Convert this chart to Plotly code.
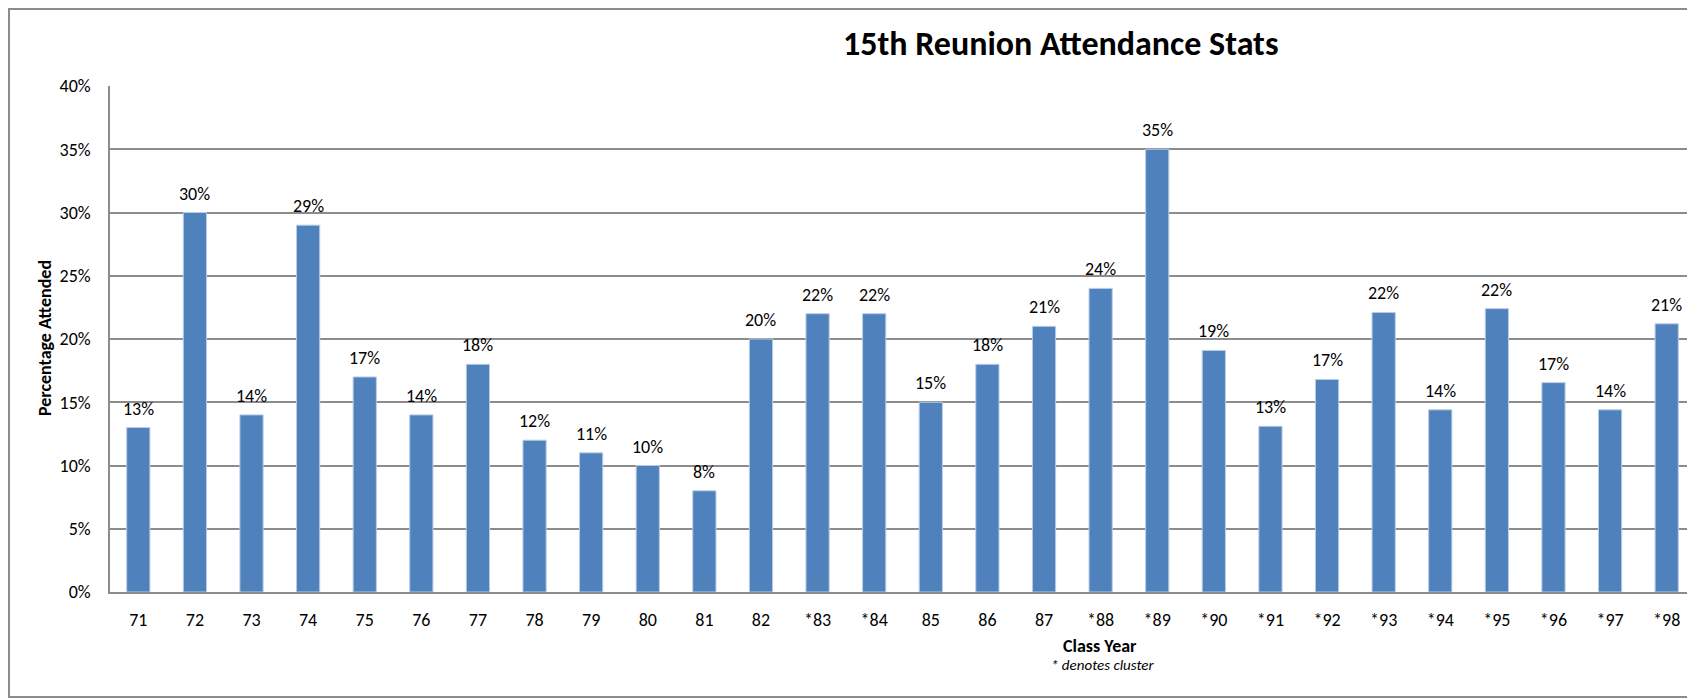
import plotly.graph_objects as go

class_years = ["71", "72", "73", "74", "75", "76", "77", "78", "79", "80", "81", "82",
               "*83", "*84", "85", "86", "87", "*88", "*89", "*90", "*91", "*92", "*93",
               "*94", "*95", "*96", "*97", "*98"]
attendance = [0.13, 0.30, 0.14, 0.29, 0.17, 0.14, 0.18, 0.12, 0.11, 0.10, 0.08, 0.20,
              0.22, 0.22, 0.15, 0.18, 0.21, 0.24, 0.35, 0.191, 0.131, 0.168, 0.221,
              0.144, 0.224, 0.1655, 0.144, 0.212]
y_ticks = [0, 0.05, 0.10, 0.15, 0.20, 0.25, 0.30, 0.35, 0.40]

FONT = "Carlito, Calibri, Lato, sans-serif"
OFF = 8  # default page body margin
W, H = 1695 - OFF, 698 - OFF
L, R, T = 110 - OFF, 0, 86 - OFF
B = H - (592 - OFF)
pw = W - L - R
ph = H - T - B


def px_x(page_x):
    return (page_x - OFF - L) / pw


def px_y(page_y):
    return (H - B - (page_y - OFF)) / ph


fig = go.Figure(go.Bar(
    x=class_years,
    y=attendance,
    marker=dict(color="#4F81BD", line=dict(color="#B9CDE5", width=1)),
    width=0.41,
    hoverinfo="x+y",
))

# data labels: category index on the category axis
annotations = [
    dict(x=i, y=v, xref="x", yref="y", text=f"{v:.0%}", showarrow=False,
         yanchor="middle", xanchor="center", yshift=19,
         font=dict(size=18, family=FONT, color="#000000"))
    for i, v in enumerate(attendance)
]
annotations += [
    dict(text="<b>15th Reunion Attendance Stats</b>", xref="paper", yref="paper",
         x=px_x(1060), y=px_y(43), xanchor="center", yanchor="middle",
         showarrow=False, font=dict(size=34, family=FONT)),
    dict(text="<b>Percentage Attended</b>", xref="paper", yref="paper",
         x=px_x(45), y=px_y(338), xanchor="center", yanchor="middle",
         textangle=-90, showarrow=False, font=dict(size=18, family=FONT)),
    dict(text="<b>Class Year</b>", xref="paper", yref="paper",
         x=px_x(1100), y=px_y(646), xanchor="center", yanchor="middle",
         showarrow=False, font=dict(size=18, family=FONT)),
    dict(text="<i>* denotes cluster</i>", xref="paper", yref="paper",
         x=px_x(1102), y=px_y(665), xanchor="center", yanchor="middle",
         showarrow=False, font=dict(size=15, family=FONT)),
]

fig.update_layout(
    width=W, height=H,
    margin=dict(l=L, r=R, t=T, b=B, autoexpand=False),
    paper_bgcolor="white", plot_bgcolor="white",
    showlegend=False,
    font=dict(family=FONT, color="#000000"),
    xaxis=dict(
        type="category", range=[-0.5, 27.5], automargin=False,
        showgrid=False, showline=True, linecolor="#8c8c8c", linewidth=1.5,
        ticks="", tickfont=dict(size=18, family=FONT), ticklabelstandoff=11,
    ),
    yaxis=dict(
        range=[0, 0.4], tickvals=y_ticks, tickformat=".0%", automargin=False,
        showgrid=True, gridcolor="#8c8c8c", gridwidth=1.5,
        showline=True, linecolor="#8c8c8c", linewidth=1.5,
        zeroline=False, ticks="", tickfont=dict(size=18, family=FONT),
        ticklabelstandoff=14,
    ),
    annotations=annotations,
    shapes=[
        dict(type="rect", xref="paper", yref="paper",
             x0=px_x(OFF + 1), x1=px_x(1730), y0=px_y(697), y1=px_y(OFF + 1),
             line=dict(color="#8c8c8c", width=2), fillcolor="rgba(0,0,0,0)",
             layer="below"),
    ],
)

fig.write_html("out.html")
